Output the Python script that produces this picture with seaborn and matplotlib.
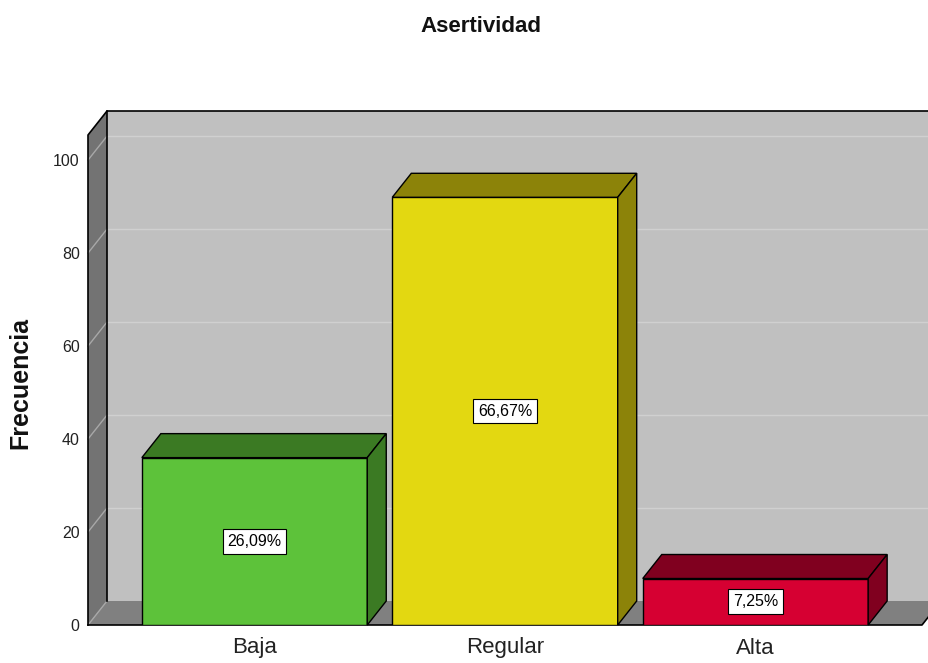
import matplotlib
matplotlib.use("Agg")
import matplotlib.pyplot as plt
from matplotlib.patches import Polygon
import pandas as pd
import seaborn as sns

# Data
categories = ["Baja", "Regular", "Alta"]
frecuencias = [36, 92, 10]
yticks = [0, 20, 40, 60, 80, 100]

front_colors = ["#5DC23A", "#E3D811", "#D60032"]
dark_colors = ["#3B7A23", "#8C8309", "#80001F"]

plt.rcParams["font.family"] = ["Liberation Sans", "DejaVu Sans"]

W, H = 929, 663
fig = plt.figure(figsize=(W / 100, H / 100), dpi=100)
fig.patch.set_facecolor("white")
ax = fig.add_axes([88 / W, (H - 625) / H, (922 - 88) / W, (625 - 135) / H])

df = pd.DataFrame({"Nivel": categories, "Frecuencia": frecuencias})
sns.barplot(data=df, x="Nivel", y="Frecuencia", hue="Nivel",
            palette=front_colors, saturation=1, width=0.9, edgecolor="black",
            linewidth=1.0, legend=False, ax=ax, zorder=3)

ax.set_xlim(-0.665, 2.665)
ax.set_ylim(0, 105.4)
ax.set_facecolor("none")
for s in ax.spines.values():
    s.set_visible(False)

# depth offset of the 3D box, in data units
p0 = ax.transData.transform((0, 0))
p1 = ax.transData.transform((1, 1))
dx = 19 / (p1[0] - p0[0])
dy = 24 / (p1[1] - p0[1])
x0, x1 = ax.get_xlim()
top = ax.get_ylim()[1]
xr = x1 + dx + 0.5

def poly(pts, fc, ec="none", lw=1.0, z=0):
    ax.add_patch(Polygon(pts, closed=True, facecolor=fc, edgecolor=ec,
                         linewidth=lw, zorder=z, clip_on=False))

# back wall, left wall, floor
poly([(x0 + dx, dy), (xr, dy), (xr, top + dy), (x0 + dx, top + dy)], "#C0C0C0", z=0)
poly([(x0, 0), (x0, top), (x0 + dx, top + dy), (x0 + dx, dy)], "#737373", z=0.5)
poly([(x0, 0), (x1, 0), (x1 + dx, dy), (x0 + dx, dy)], "#808080", z=0.5)

# grid lines on the walls
for v in yticks[1:]:
    ax.plot([x0, x0 + dx], [v, v + dy], color="#A8A8A8", lw=1, zorder=1, clip_on=False)
    ax.plot([x0 + dx, xr], [v + dy, v + dy], color="#D0D0D0", lw=1, zorder=1, clip_on=False)
ax.plot([x0, x0 + dx], [0, dy], color="#A8A8A8", lw=1, zorder=1, clip_on=False)

# box outline
kw = dict(color="black", lw=1.2, zorder=2, clip_on=False)
ax.plot([x0, x0, x0 + dx, xr], [0, top, top + dy, top + dy], **kw)
ax.plot([x0 + dx, x0 + dx], [dy, top + dy], **kw)
ax.plot([x0, x1, x1 + dx], [0, 0, dy], **kw)

# top and side faces of the bars, plus percentage labels
total = sum(frecuencias)
for i, patch in enumerate(ax.patches[:len(categories)]):
    x = patch.get_x()
    w = patch.get_width()
    h = patch.get_height()
    poly([(x, h), (x + w, h), (x + w + dx, h + dy), (x + dx, h + dy)],
         dark_colors[i], ec="black", lw=1.0, z=3)
    poly([(x + w, 0), (x + w + dx, dy), (x + w + dx, h + dy), (x + w, h)],
         dark_colors[i], ec="black", lw=1.0, z=3)
    pct = f"{frecuencias[i] / total * 100:.2f}%".replace(".", ",")
    ax.text(x + w / 2, h / 2, pct, ha="center", va="center", fontsize=11.5,
            color="black", zorder=6,
            bbox=dict(boxstyle="square,pad=0.3", fc="white", ec="black", lw=0.8))

ax.set_yticks(yticks)
ax.set_yticklabels([str(t) for t in yticks])
ax.tick_params(axis="y", length=0, pad=6, labelsize=11.5, labelcolor="#222222")
ax.tick_params(axis="x", length=0, pad=9, labelsize=16, labelcolor="#222222")
ax.set_xlabel("")
ax.set_ylabel("")

fig.text(481 / W, 1 - 27 / H, "Asertividad", ha="center", va="center",
         fontsize=16, fontweight="bold", color="#111111")
fig.text(20 / W, 1 - 383 / H, "Frecuencia", ha="center", va="center",
         rotation=90, fontsize=18, fontweight="bold", color="#111111")

fig.savefig("out.png", dpi=100, facecolor="white")
